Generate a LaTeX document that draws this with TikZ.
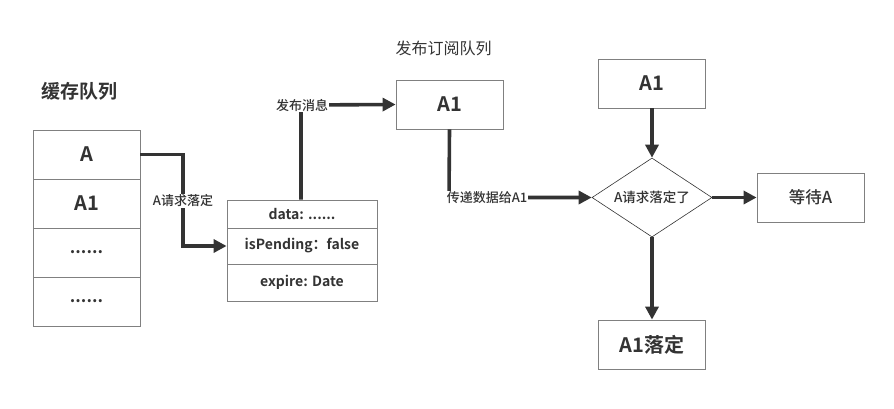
\documentclass[tikz,border=0pt]{standalone}
\usepackage{fontspec}
\setmainfont{Noto Sans CJK SC}[BoldFont={Noto Sans CJK SC Bold}]
\newfontfamily\medfont{Noto Sans CJK SC Medium}
\usetikzlibrary{arrows.meta,shapes.geometric}
\definecolor{txt}{HTML}{333333}
\definecolor{bord}{HTML}{808080}
\tikzset{
  box/.style={draw=bord,line width=0.8pt,minimum width=107pt,minimum height=49pt,inner sep=0pt,font=\bfseries\fontsize{20}{22}\selectfont,text=txt},
  row/.style={draw=bord,line width=0.8pt,minimum width=150pt,inner sep=0pt,font=\bfseries\fontsize{14}{16}\selectfont,text=txt},
  conn/.style={draw=txt,line width=3.6pt},
  arr/.style={conn,-{Triangle[length=13pt,width=13pt]}},
  lbl/.style={fill=white,inner sep=1pt,font=\medfont\fontsize{13}{15}\selectfont,text=txt},
}
\begin{document}
\begin{tikzpicture}[x=1pt,y=-1pt]
\useasboundingbox (0,0) rectangle (894,408);
% titles
\node[font=\bfseries\fontsize{19}{21}\selectfont,text=txt,anchor=west] (t1) at (38,91) {缓存队列};
\node[font=\fontsize{16}{18}\selectfont,text=txt,anchor=west] (t2) at (392,48) {发布订阅队列};
% cache queue
\node[box] (qa) at (86.5,154.5) {A};
\node[box] (qa1) at (86.5,203.5) {A1};
\node[box,font=\bfseries\fontsize{17}{19}\selectfont] (qd1) at (86.5,252.5) {......};
\node[box,font=\bfseries\fontsize{17}{19}\selectfont] (qd2) at (86.5,301.5) {......};
% data box
\node[row,minimum height=28pt] (d1) at (302,214) {data: ......};
\node[row,minimum height=36pt] (d2) at (302,246) {isPending：false};
\node[row,minimum height=37pt] (d3) at (302,282.5) {expire: Date};
% pubsub box
\node[box] (p1) at (449.5,104.5) {A1};
% right side
\node[box] (r1) at (652,83.5) {A1};
\node[diamond,draw=txt,line width=0.6pt,aspect=1.52,minimum width=120pt,minimum height=79pt,inner sep=0pt,font=\medfont\fontsize{13.5}{15}\selectfont,text=txt] (dm) at (652,197.5) {A请求落定了};
\node[box,font=\medfont\fontsize{16.5}{18}\selectfont] (wa) at (810.5,197.5) {等待A};
\node[box] (fin) at (652,344.5) {A1落定};
% connectors
\coordinate (c1) at (183,154.5);
\coordinate (c2) at (183,246);
\draw[arr] (qa.east) -- (c1) -- (c2) -- (d2.west);
\node[lbl] (l1) at (183,201) {A请求落定};
\coordinate (c3) at (301,105);
\draw[arr] (d1.north -| c3) -- (c3) -- (p1.west);
\node[lbl] (l2) at (302,105) {发布消息};
\coordinate (c4) at (449,197.5);
\draw[arr] (p1.south) -- (c4) -- (dm.west);
\node[lbl] (l3) at (487,198) {传递数据给A1};
\draw[arr] (r1.south) -- (dm.north);
\draw[arr] (dm.east) -- (wa.west);
\draw[arr] (dm.south) -- (fin.north);
\end{tikzpicture}
\end{document}
